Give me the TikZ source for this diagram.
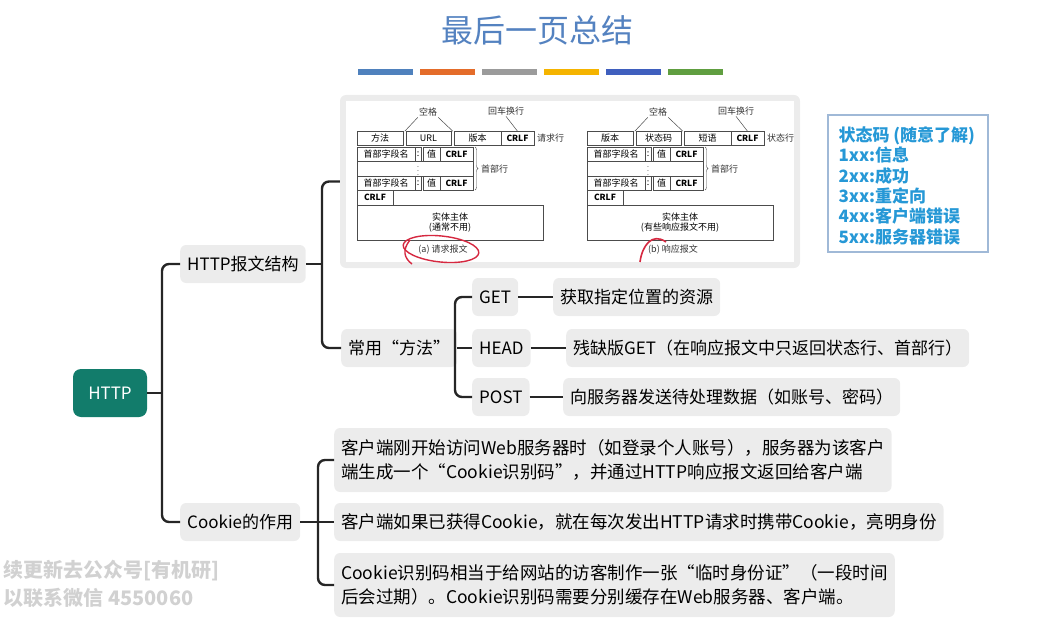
\documentclass[tikz,border=0pt]{standalone}
\usepackage{fontspec}
\setmainfont{Noto Sans CJK SC}
\usetikzlibrary{positioning,decorations.pathreplacing}
\definecolor{titleblue}{RGB}{84,130,192}
\definecolor{nodegray}{RGB}{236,236,236}
\definecolor{rootgreen}{RGB}{18,124,107}
\definecolor{codeblue}{RGB}{38,152,214}
\definecolor{codeframe}{RGB}{160,185,215}
\definecolor{inkred}{RGB}{214,40,64}
\definecolor{barA}{RGB}{79,129,189}
\definecolor{barB}{RGB}{228,108,42}
\definecolor{barC}{RGB}{155,155,155}
\definecolor{barD}{RGB}{245,180,0}
\definecolor{barE}{RGB}{63,95,190}
\definecolor{barF}{RGB}{96,158,64}
\newcommand{\setfs}[2]{\fontsize{#1}{#2}\selectfont}

\begin{document}
\begin{tikzpicture}[x=1pt,y=-1pt,
  topic/.style={fill=nodegray,rounded corners=6pt,font=\setfs{17}{24},inner xsep=7pt,minimum height=38pt,anchor=west,align=left},
  link/.style={line width=2.4pt,rounded corners=7pt,draw=black!85},
  cell/.style={draw=black!70,line width=0.6pt,inner sep=0pt,minimum height=14pt,font=\setfs{9}{10}},
  tag/.style={inner sep=1pt,font=\setfs{9}{11},text=black!80}]
  \useasboundingbox (0,0) rectangle (1064,620);

  % title and colour bars
  \node[font=\setfs{32}{36},text=titleblue] (title) at (537,30) {最后一页总结};
  \foreach \c [count=\k from 0] in {barA,barB,barC,barD,barE,barF}
    \fill[\c] (358+\k*62,69) rectangle ++(55,6);

  % message format figure
  \node[fill=nodegray,rounded corners=6pt,minimum width=460pt,minimum height=173pt] (fig) at (570,181.5) {};
  \fill[white] (346,101) rectangle (794,262);
  \foreach \dx/\ca/\cb/\cc/\rowname/\note/\cap [count=\i] in
    {0/方法/URL/版本/请求行/{(通常不用)}/{(a) 请求报文},
     230/版本/状态码/短语/状态行/{(有些响应报文不用)}/{(b) 响应报文}} {
    \begin{scope}[xshift=\dx]
      \node[tag] (space\i) at (428,112) {空格};
      \node[tag] (crlfnote\i) at (506,111) {回车换行};
      \node[cell,minimum width=46pt] (ca\i) at (380,138.5) {\ca};
      \node[cell,minimum width=45pt] (cb\i) at (428.5,138.5) {\cb};
      \node[cell,minimum width=47pt] (cc\i) at (477.5,138.5) {\cc};
      \node[cell,minimum width=33pt,font=\setfs{8.5}{9}\bfseries] (cd\i) at (517.5,138.5) {CRLF};
      \node[tag,anchor=west] (row\i) at (536,138.5) {\rowname};
      \draw[black!70,line width=0.5pt] (ca\i.north east) ++(1.5,0) -- (space\i.south west);
      \draw[black!70,line width=0.5pt] (cb\i.north east) ++(1.5,0) -- (space\i.south east);
      \draw[black!70,line width=0.5pt] (cd\i.north) -- (crlfnote\i.south);
      \foreach \yy/\r in {154/a,183/b} {
        \node[cell,minimum width=58pt] (hn\r\i) at (386,\yy) {首部字段名};
        \node[cell,minimum width=6pt] (hc\r\i) at (418,\yy) {:};
        \node[cell,minimum width=17pt] (hv\r\i) at (431.5,\yy) {值};
        \node[cell,minimum width=33pt,font=\setfs{8.5}{9}\bfseries] (hf\r\i) at (456.5,\yy) {CRLF};
      }
      \node[cell,minimum width=116pt,minimum height=15pt] (hdots\i) at (415,168.5) {};
      \node[inner sep=0pt] (dots\i) at (418,168.5) {\scriptsize$\vdots$};
      \draw[decorate,decoration={brace,amplitude=3pt},black!70] (475,147) -- (475,190);
      \node[tag,anchor=west] (head\i) at (480,169) {首部行};
      \node[cell,minimum width=36pt,minimum height=15pt,font=\setfs{8.5}{9}\bfseries] (blank\i) at (375,197.5) {CRLF};
      \node[cell,minimum width=186pt,minimum height=35pt,align=center] (body\i) at (450,222.5) {实体主体\\\note};
      \node[tag] (cap\i) at (443,250) {\cap};
    \end{scope}
  }
  % red pen marks
  \draw[inkred,line width=1.4pt,rotate around={-6:(441,249)}] (441,249) ellipse (38pt and 13pt);
  \draw[inkred,line width=1.4pt] (410,240) .. controls (402,250) and (404,258) .. (412,264);
  \draw[inkred,line width=1.6pt] (640,262) .. controls (642,246) and (652,232) .. (666,242);

  % status codes
  \node[draw=codeframe,line width=1.2pt,minimum width=160pt,minimum height=137pt] (codes) at (908,183.5) {};
  \node[anchor=north west,align=left,text=codeblue,font=\setfs{17}{20.4}\bfseries] (codelist) at (835,123)
    {状态码 (随意了解)\\1xx:信息\\2xx:成功\\3xx:重定向\\4xx:客户端错误\\5xx:服务器错误};

  % mind map
  \node[fill=rootgreen,rounded corners=8pt,minimum width=74pt,minimum height=48pt,text=white,font=\setfs{17}{20}] (http) at (110,393) {HTTP};
  \node[topic] (struct) at (180,264) {HTTP报文结构};
  \node[topic] (methods) at (341,348) {常用“方法”};
  \node[topic] (get) at (472,297) {GET};
  \node[topic] (head) at (472,348) {HEAD};
  \node[topic] (post) at (472,397) {POST};
  \node[topic] (getd) at (553,297) {获取指定位置的资源};
  \node[topic] (headd) at (566,348) {残缺版GET（在响应报文中只返回状态行、首部行）};
  \node[topic] (postd) at (563,397) {向服务器发送待处理数据（如账号、密码）};
  \node[topic] (cookie) at (180,522) {Cookie的作用};
  \node[topic,font=\setfs{17.5}{24},minimum height=64pt] (ca) at (334,460) {客户端刚开始访问Web服务器时（如登录个人账号），服务器为该客户\\端生成一个“Cookie识别码”，并通过HTTP响应报文返回给客户端};
  \node[topic,font=\setfs{17.5}{24}] (cb) at (334,522) {客户端如果已获得Cookie，就在每次发出HTTP请求时携带Cookie，亮明身份};
  \node[topic,font=\setfs{17.5}{24},minimum height=64pt] (cc) at (334,585) {Cookie识别码相当于给网站的访客制作一张“临时身份证”（一段时间\\后会过期）。Cookie识别码需要分别缓存在Web服务器、客户端。};

  \coordinate (hubA) at (162,393);
  \coordinate (hubB) at (322,264);
  \coordinate (hubC) at (455,348);
  \coordinate (hubD) at (318,522);
  \draw[link] (struct.west) -| (hubA) |- (cookie.west);
  \draw[link] (http.east) -- (hubA);
  \draw[link] (fig.west) -| (hubB) |- (methods.west);
  \draw[link] (struct.east) -- (hubB);
  \draw[link] (get.west) -| (hubC) |- (post.west);
  \draw[link] (methods.east) -- (head.west);
  \draw[link] (ca.west) -| (hubD) |- (cc.west);
  \draw[link] (cookie.east) -- (cb.west);
  \foreach \a/\b in {get/getd,head/headd,post/postd}
    \draw[link] (\a.east) -- (\b.west);

  % watermark
  \node[anchor=west,font=\setfs{20}{24}\bfseries,text=black!18] (wmA) at (0,571) {续更新去公众号[有机研]};
  \node[anchor=west,font=\setfs{20}{24}\bfseries,text=black!18] (wmB) at (0,598) {以联系微信 4550060};
\end{tikzpicture}
\end{document}
